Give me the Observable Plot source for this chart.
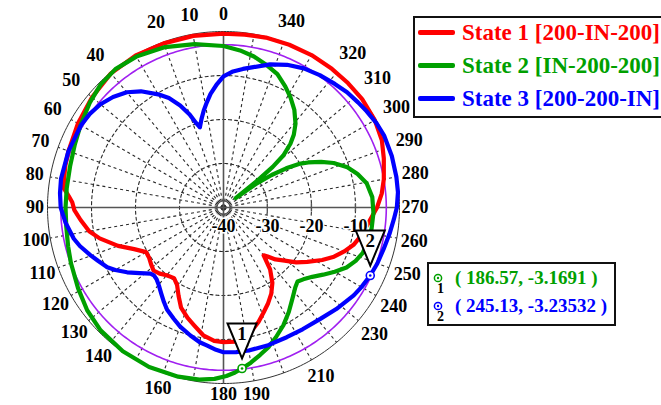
<!DOCTYPE html>
<html>
<head>
<meta charset="utf-8">
<script src="https://cdn.jsdelivr.net/npm/d3@7"></script>
<script src="https://cdn.jsdelivr.net/npm/@observablehq/plot@0.6"></script>
<style>
  html, body { margin: 0; padding: 0; background: #fff; overflow: hidden; }
  #wrap { position: relative; width: 661px; height: 405px; }
  #wrap svg { display: block; }
  .box { position: absolute; border: 2px solid #111; background: #fff;
         font-family: "Liberation Serif", "Times New Roman", serif; font-weight: bold; box-sizing: border-box; }
  .row { position: absolute; left: 0; white-space: nowrap; }
</style>
</head>
<body>
<div id="wrap"></div>
<script>
// ---------------- data ----------------
const seriesNames  = ["State 1 [200-IN-200]", "State 2 [IN-200-200]", "State 3 [200-200-IN]"];
const seriesColors = ["#ff0000", "#00a000", "#0000ff"];

const state1Angle = [0,10,20,30,40,50,60,70,75,80,83,86,88,91,95,100,104,110,115,120,124,128,132,136,140,145,149,153,157,162,166,171,176,180,185,189,193,197,201,205,209,213,217,220,222,225,229,233,237,242,246,250,254,258,263,270,275,280,287,293,300,308,315,322,330,338,346,353,360];
const state1Gain  = [-0.5,-0.4,-0.3,-0.1,-0.2,-1.0,-1.8,-2.5,-2.8,-3.2,-3.4,-4.8,-5.6,-6.1,-7.4,-9.0,-11.0,-14.5,-17.6,-19.7,-19.6,-19.1,-18.6,-19.1,-19.9,-20.4,-19.5,-17.5,-15.3,-13.6,-12.4,-10.6,-9.6,-9.4,-9.4,-10.0,-11.3,-12.8,-14.5,-16.0,-17.6,-19.6,-22.4,-25.8,-25.0,-23.3,-21.6,-19.3,-17.3,-14.6,-12.5,-10.8,-9.25,-8.2,-7.1,-5.1,-3.9,-3.0,-1.9,-0.9,-0.3,0,0,0,0,-0.1,-0.2,-0.4,-0.5];

const state2Angle = [0,10,20,30,38,45,52,60,67,75,83,90,97,104,110,119,127,135,145,155,165,172,177,181,184,186.57,190,194,198,202,207,212,217,222,225,228,232,236,240,244,248,252,256,262,268,274,279.6,284,288,292,295,298,300,302,304,306,307.5,308.5,309.5,311,313.6,316,319.3,324,328.7,333,338,343,348.6,354,360];
const state2Gain  = [-3.3,-2.3,-1.2,-0.4,-0.1,-0.5,-1.4,-2.5,-3.3,-3.9,-4.1,-4.1,-4.0,-3.6,-3.1,-2.2,-1.2,-0.5,-0.1,0,-0.2,-0.5,-1.0,-1.7,-2.4,-3.1691,-4.2,-5.5,-6.7,-8.2,-10.0,-12.0,-14.0,-15.6,-16.2,-15.6,-14.4,-12.7,-10.8,-8.9,-7.6,-6.7,-6.3,-6.0,-5.9,-6.1,-7.0,-8.6,-10.4,-13.0,-15.5,-18.2,-20.2,-23.2,-26.8,-31,-36.5,-30,-25.5,-22,-19,-17,-14.9,-12.6,-10.7,-9.1,-7.3,-6.2,-5.0,-4.1,-3.3];

const state3Angle = [0,3,6.5,9,11.5,14,16.4,18,20,23,26.5,30,35.4,40,45,50,55,60,70,80,85,90,95.3,101.8,105,109.8,113,117.2,120,123.9,128,132.2,134.3,137,140.3,144,147.8,151,155.9,160,165.5,170,173.3,177,180,185,190,198,206,213,221,228,236,240,245.13,250,255.5,261,266,270,275,280,287,294,299,304,308,313,318,324,330,336,342,348,352,356,360];
const state3Gain  = [-10.2,-11.9,-14.0,-15.8,-17.5,-19.3,-21.0,-19.8,-17.5,-14.8,-12.2,-10.3,-7.6,-5.8,-4.5,-3.5,-2.9,-2.6,-2.5,-2.5,-2.7,-3.0,-3.9,-5.25,-6.2,-7.9,-9.0,-10.3,-11.6,-13.6,-15.8,-17.6,-17.9,-17.7,-17.0,-15.9,-14.6,-13.5,-12.3,-11.2,-9.95,-8.9,-8.4,-7.6,-7.1,-7.0,-7.0,-7.1,-7.2,-7.0,-6.45,-5.5,-4.3,-3.8,-3.23532,-2.8,-2.4,-1.8,-1.2,-0.6,-0.2,-0.1,0,0,-0.3,-0.8,-1.2,-1.6,-2.2,-2.8,-3.5,-4.5,-5.8,-7.4,-8.2,-9.0,-10.2];

const angleTickLabels = [0,10,20,40,50,60,70,80,90,100,110,120,130,140,160,180,190,210,230,240,250,260,270,280,290,300,310,320,340];
const radialTickLabels = [-40,-30,-20,-10];
const gridRings = [-30,-20,-10];
const radialMin = -40, radialMax = 0;
const refLevel = -3;               // purple reference circle
const spokeStep = 10;

const markerAngle = [186.57, 245.13];
const markerGain  = [-3.1691, -3.23532];
const markerSeries = [1, 2];       // index into seriesNames

// ---------------- geometry helpers (polar -> globe) ----------------
const span = radialMax - radialMin;                 // 40 dB -> 40 deg from the pole
const lon = a => 180 + a;                           // 0 at top, counter-clockwise
const lat = g => 90 - (g - radialMin);              // -40 dB at the pole
const R = 176;                                      // outer radius in px (frame fit)
const pxPerDeg = R / span;
const rad = Math.PI / 180;

const series = [state1Angle, state2Angle, state3Angle].map((angles, s) =>
  angles.map((a, i) => ({a, g: [state1Gain, state2Gain, state3Gain][s][i], s})));
const markers = markerAngle.map((a, i) => ({a, g: markerGain[i], s: markerSeries[i], n: i + 1}));
const spokes = d3.range(0, 360, spokeStep).filter(a => a % 90 !== 0);
const axes = [0, 90, 180, 270];
const ring = r => d3.geoCircle().center([0, 90]).radius(r).precision(1)();

const triangleDown = {
  draw(ctx) {
    ctx.moveTo(-14.5, -45); ctx.lineTo(14.5, -45); ctx.lineTo(0, -10); ctx.closePath();
  }
};

const font = "Liberation Serif";
// label distance from the centre (px): a bit further out on the diagonals, closer at the bottom
const labelRadiusPx = a => 190 + 8 * Math.abs(Math.sin(2 * a * rad)) - 1.5 * Math.sin(a * rad) + 3 * Math.cos(a * rad);

const chart = Plot.plot({
  width: 661, height: 405,
  marginLeft: 47, marginRight: 262, marginTop: 31, marginBottom: 22,
  projection: {
    type: "azimuthal-equidistant",
    rotate: [0, -90],
    domain: ring(span),
    clip: false
  },
  marks: [
    // dashed grid rings and spokes
    Plot.geo(gridRings, {geometry: g => ring(g - radialMin), fill: "none", stroke: "#2a2a2a", strokeWidth: 1.1, strokeDasharray: "3,3"}),
    Plot.link(spokes, {x1: a => lon(a), y1: lat(radialMin), x2: a => lon(a), y2: lat(radialMax), stroke: "#2a2a2a", strokeWidth: 1.1, strokeDasharray: "3,3"}),
    // solid axes
    Plot.link(axes, {x1: a => lon(a), y1: lat(radialMin), x2: a => lon(a), y2: lat(radialMax), stroke: "#555", strokeWidth: 1.6}),
    Plot.link(gridRings, {
      x1: g => lon(270) - (4 / ((g - radialMin) * pxPerDeg)) / rad, y1: g => lat(g),
      x2: g => lon(270) + (4 / ((g - radialMin) * pxPerDeg)) / rad, y2: g => lat(g),
      stroke: "#555", strokeWidth: 1.4
    }),
    // outer circle
    Plot.geo([radialMax], {geometry: g => ring(g - radialMin), fill: "none", stroke: "#333", strokeWidth: 1}),
    // -3 dB reference
    Plot.geo([refLevel], {geometry: g => ring(g - radialMin), fill: "none", stroke: "#a020f0", strokeWidth: 1.6}),
    // data curves
    ...series.map((data, s) => Plot.line(data, {x: d => lon(d.a), y: d => lat(d.g), stroke: seriesColors[s], strokeWidth: 4.2})),
    // radial labels
    Plot.text(radialTickLabels, {x: lon(270), y: g => lat(g), text: g => String(g), dy: 19,
      fontFamily: font, fontWeight: "bold", fontSize: 18, fill: "black", stroke: "white", strokeWidth: 3}),
    // angle labels
    Plot.text(angleTickLabels, {x: a => lon(a), y: a => 90 - labelRadiusPx(a) / pxPerDeg, text: a => String(a),
      fontFamily: font, fontWeight: "bold", fontSize: 18, fill: "black"}),
    // markers
    Plot.dot(markers, {x: d => lon(d.a), y: d => lat(d.g), symbol: triangleDown, fill: "white", stroke: "black", strokeWidth: 2}),
    Plot.text(markers, {x: d => lon(d.a), y: d => lat(d.g), text: d => String(d.n), dy: -35,
      fontFamily: font, fontWeight: "bold", fontSize: 19, fill: "black"}),
    Plot.dot(markers, {x: d => lon(d.a), y: d => lat(d.g), r: 4, fill: "white", stroke: d => seriesColors[d.s], strokeWidth: 1.6}),
    Plot.dot(markers, {x: d => lon(d.a), y: d => lat(d.g), r: 1.3, fill: d => seriesColors[d.s], stroke: "none"})
  ]
});

const wrap = document.getElementById("wrap");
wrap.appendChild(chart);

// legend box (top right)
const legend = document.createElement("div");
legend.className = "box";
Object.assign(legend.style, {left: "413px", top: "16px", width: "270px", height: "102px"});
seriesNames.forEach((name, i) => {
  const row = document.createElement("div");
  row.className = "row";
  Object.assign(row.style, {top: (i * 33 - 4) + "px", height: "33px", lineHeight: "33px", fontSize: "23px", color: seriesColors[i]});
  row.innerHTML = `<span style="display:inline-block;width:37px;height:5px;background:${seriesColors[i]};vertical-align:middle;margin:0 7px 0 3px;border-radius:2px"></span><span style="vertical-align:middle">${name}</span>`;
  legend.appendChild(row);
});
wrap.appendChild(legend);

// marker readout box
const readout = document.createElement("div");
readout.className = "box";
Object.assign(readout.style, {left: "427px", top: "262px", width: "189px", height: "64px"});
markers.forEach((m, i) => {
  const c = seriesColors[m.s];
  const row = document.createElement("div");
  row.className = "row";
  Object.assign(row.style, {top: (i * 28 + 3) + "px", height: "28px"});
  row.innerHTML =
    `<svg width="12" height="12" style="position:absolute;left:3px;top:5px"><circle cx="6" cy="6" r="3.6" fill="white" stroke="${c}" stroke-width="1.5"/><circle cx="6" cy="6" r="1.2" fill="${c}"/></svg>` +
    `<span style="position:absolute;left:8px;top:14px;font-size:14px;color:#000">${m.n}</span>` +
    `<span style="position:absolute;left:26px;top:0px;font-size:19px;line-height:22px;color:${c}">( ${m.a}, ${m.g} )</span>`;
  readout.appendChild(row);
});
wrap.appendChild(readout);
</script>
</body>
</html>
